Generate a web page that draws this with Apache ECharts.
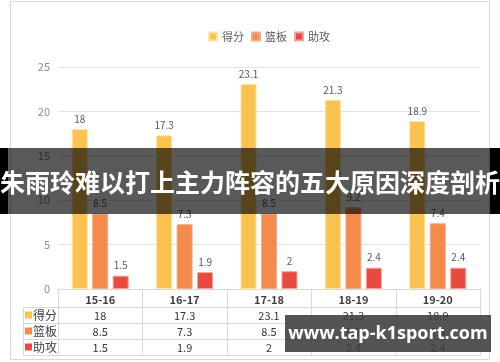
<!DOCTYPE html>
<html><head><meta charset="utf-8">
<script src="https://cdn.jsdelivr.net/npm/echarts@6/dist/echarts.min.js"></script>
<style>html,body{margin:0;padding:0;background:#fff}#c{width:500px;height:362px}</style>
</head><body><div id="c"></div>
<script>
const categories = ['15-16', '16-17', '17-18', '18-19', '19-20'];
const seriesNames = ['得分', '篮板', '助攻'];
const points = [18, 17.3, 23.1, 21.3, 18.9];
const rebounds = [8.5, 7.3, 8.5, 9.2, 7.4];
const assists = [1.5, 1.9, 2, 2.4, 2.4];
const yMin = 0, yMax = 25, yInterval = 5;
const titleText = '朱雨玲难以打上主力阵容的五大原因深度剖析';
const watermarkText = 'www.tap-k1sport.com';

const colors = ['#FAC34F', '#F58A4B', '#E84A3F'];
const borders = ['#FCE3A2', '#E9B08E', '#F2A49B'];
const seriesData = [points, rebounds, assists];
const font = '"Noto Sans CJK SC","Microsoft YaHei",sans-serif';

const chart = echarts.init(document.getElementById('c'));
chart.setOption({
  animation: false,
  textStyle: { fontFamily: font },
  legend: {
    data: seriesNames, top: 26, left: 203, itemWidth: 8, itemHeight: 8, itemGap: 7,
    icon: 'rect', textStyle: { fontSize: 11, color: '#595959', fontFamily: font }
  },
  grid: { left: 58, right: 20, top: 67, bottom: 73, containLabel: false },
  xAxis: {
    type: 'category', data: categories,
    axisLine: { lineStyle: { color: '#d9d9d9' } },
    axisTick: { show: false },
    axisLabel: { color: '#404040', fontSize: 11, fontWeight: 'bold', margin: 5 }
  },
  yAxis: {
    type: 'value', min: yMin, max: yMax, interval: yInterval,
    axisLine: { show: false }, axisTick: { show: false },
    axisLabel: { color: '#8c8c8c', fontSize: 11, margin: 8 },
    splitLine: { lineStyle: { color: '#e3e3e3' } }
  },
  series: seriesNames.map((n, i) => ({
    name: n, type: 'bar', data: seriesData[i], barWidth: 16, barGap: '28%',
    itemStyle: { color: colors[i], borderColor: borders[i], borderWidth: 1 },
    label: { show: true, position: 'top', distance: 5, color: '#595959', fontSize: 10 }
  }))
});

const g = [];
g.push({ type: 'rect', shape: { x: 10.5, y: 1.5, width: 479, height: 358 }, style: { fill: 'none', stroke: '#d9d9d9', lineWidth: 1 }, z: 1 });
const band = chart.convertToPixel({ xAxisIndex: 0 }, categories[1]) - chart.convertToPixel({ xAxisIndex: 0 }, categories[0]);
const x0 = chart.convertToPixel({ xAxisIndex: 0 }, categories[0]) - band / 2;
const xEnd = x0 + band * categories.length;
const axisY = chart.convertToPixel({ yAxisIndex: 0 }, 0);
const rowLines = [307, 323, 339, 355];
const lineStyle = { stroke: '#d9d9d9', lineWidth: 1 };
rowLines.forEach(y => g.push({ type: 'line', shape: { x1: 23, y1: y + 0.5, x2: xEnd, y2: y + 0.5 }, style: lineStyle, z: 1 }));
g.push({ type: 'line', shape: { x1: 23.5, y1: 307, x2: 23.5, y2: 355 }, style: lineStyle, z: 1 });
for (let k = 0; k <= categories.length; k++) {
  const x = Math.round(x0 + band * k) + 0.5;
  g.push({ type: 'line', shape: { x1: x, y1: axisY, x2: x, y2: 355 }, style: lineStyle, z: 1 });
}
seriesNames.forEach((n, i) => {
  const cy = (rowLines[i] + rowLines[i + 1]) / 2 + 0.5;
  g.push({ type: 'rect', shape: { x: 25, y: cy - 4, width: 7, height: 7 }, style: { fill: colors[i] }, z: 2 });
  g.push({ type: 'text', x: 33, y: cy, style: { text: n, fill: '#404040', fontSize: 12, fontFamily: font, verticalAlign: 'middle', align: 'left' }, z: 2 });
  seriesData[i].forEach((v, j) => {
    const cx = chart.convertToPixel({ xAxisIndex: 0 }, categories[j]);
    g.push({ type: 'text', x: cx, y: cy, style: { text: String(v), fill: '#333', fontSize: 11, fontFamily: font, align: 'center', verticalAlign: 'middle' }, z: 2 });
  });
});
g.push({ type: 'rect', shape: { x: 0, y: 148, width: 500, height: 66 }, style: { fill: 'rgba(0,0,0,0.65)' }, z: 10 });
g.push({ type: 'rect', shape: { x: 0, y: 148, width: 8, height: 66 }, style: { fill: '#000' }, z: 10 });
g.push({ type: 'rect', shape: { x: 490, y: 148, width: 10, height: 66 }, style: { fill: '#000' }, z: 10 });
g.push({ type: 'text', x: 250, y: 182, style: { text: titleText, fill: '#fff', fontSize: 25, fontWeight: 'bold', fontFamily: font, align: 'center', verticalAlign: 'middle' }, z: 11 });
g.push({ type: 'rect', shape: { x: 285, y: 315, width: 206, height: 37 }, style: { fill: 'rgba(60,60,60,0.88)' }, z: 10 });
g.push({ type: 'text', x: 388, y: 334, style: { text: watermarkText, fill: '#fff', fontSize: 18, fontWeight: 'bold', fontFamily: '"Open Sans","DejaVu Sans",sans-serif', align: 'center', verticalAlign: 'middle' }, z: 11 });
chart.setOption({ graphic: g });
</script></body></html>
